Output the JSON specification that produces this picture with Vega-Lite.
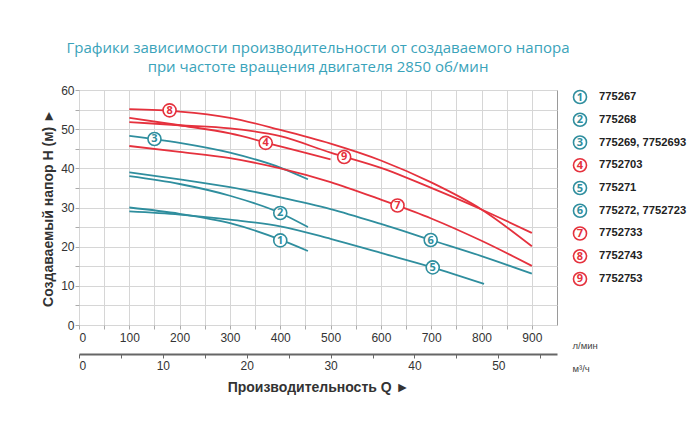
{
  "$schema": "https://vega.github.io/schema/vega-lite/v6.json",
  "padding": {"left": 41, "top": 40, "right": 5, "bottom": 5},
  "background": "white",
  "bounds": "flush",
  "spacing": 16,
  "config": {"font": "Liberation Sans", "view": {"stroke": null}},
  "datasets": {
    "curves": [
      {"id": "1", "q": 100, "h": 30.0}, {"id": "1", "q": 200, "h": 28.4}, {"id": "1", "q": 300, "h": 26.0}, {"id": "1", "q": 400, "h": 21.8}, {"id": "1", "q": 455, "h": 18.9},
      {"id": "2", "q": 100, "h": 38.0}, {"id": "2", "q": 200, "h": 36.0}, {"id": "2", "q": 300, "h": 33.0}, {"id": "2", "q": 400, "h": 28.6}, {"id": "2", "q": 455, "h": 25.0},
      {"id": "3", "q": 100, "h": 48.3}, {"id": "3", "q": 200, "h": 46.5}, {"id": "3", "q": 300, "h": 44.0}, {"id": "3", "q": 400, "h": 40.2}, {"id": "3", "q": 455, "h": 37.2},
      {"id": "4", "q": 100, "h": 52.9}, {"id": "4", "q": 200, "h": 51.0}, {"id": "4", "q": 300, "h": 48.9}, {"id": "4", "q": 400, "h": 45.6}, {"id": "4", "q": 500, "h": 42.3},
      {"id": "5", "q": 100, "h": 29.0}, {"id": "5", "q": 200, "h": 28.2}, {"id": "5", "q": 300, "h": 26.9}, {"id": "5", "q": 400, "h": 25.2}, {"id": "5", "q": 500, "h": 22.0}, {"id": "5", "q": 600, "h": 18.4}, {"id": "5", "q": 700, "h": 14.8}, {"id": "5", "q": 805, "h": 10.5},
      {"id": "6", "q": 100, "h": 39.0}, {"id": "6", "q": 200, "h": 37.2}, {"id": "6", "q": 300, "h": 35.2}, {"id": "6", "q": 400, "h": 32.6}, {"id": "6", "q": 500, "h": 29.6}, {"id": "6", "q": 600, "h": 25.8}, {"id": "6", "q": 700, "h": 21.7}, {"id": "6", "q": 800, "h": 17.6}, {"id": "6", "q": 900, "h": 13.1},
      {"id": "7", "q": 100, "h": 45.7}, {"id": "7", "q": 200, "h": 44.2}, {"id": "7", "q": 300, "h": 42.6}, {"id": "7", "q": 400, "h": 40.0}, {"id": "7", "q": 500, "h": 36.5}, {"id": "7", "q": 600, "h": 32.0}, {"id": "7", "q": 700, "h": 27.2}, {"id": "7", "q": 800, "h": 21.5}, {"id": "7", "q": 900, "h": 15.1},
      {"id": "8", "q": 100, "h": 55.1}, {"id": "8", "q": 200, "h": 54.5}, {"id": "8", "q": 300, "h": 52.9}, {"id": "8", "q": 400, "h": 49.8}, {"id": "8", "q": 500, "h": 46.3}, {"id": "8", "q": 600, "h": 42.0}, {"id": "8", "q": 700, "h": 36.4}, {"id": "8", "q": 800, "h": 29.5}, {"id": "8", "q": 900, "h": 20.1},
      {"id": "9", "q": 100, "h": 51.8}, {"id": "9", "q": 200, "h": 51.0}, {"id": "9", "q": 300, "h": 50.2}, {"id": "9", "q": 400, "h": 48.2}, {"id": "9", "q": 500, "h": 44.0}, {"id": "9", "q": 600, "h": 40.1}, {"id": "9", "q": 700, "h": 35.0}, {"id": "9", "q": 800, "h": 29.5}, {"id": "9", "q": 900, "h": 23.5}
    ],
    "labels": [
      {"id": "1", "q": 400, "h": 21.6},
      {"id": "2", "q": 400, "h": 28.6},
      {"id": "3", "q": 150, "h": 47.5},
      {"id": "4", "q": 371, "h": 46.5},
      {"id": "5", "q": 703, "h": 14.7},
      {"id": "6", "q": 699, "h": 21.7},
      {"id": "7", "q": 633, "h": 30.5},
      {"id": "8", "q": 180, "h": 54.8},
      {"id": "9", "q": 527, "h": 42.9}
    ],
    "legend": [
      {"id": "1", "name": "775267"},
      {"id": "2", "name": "775268"},
      {"id": "3", "name": "775269, 7752693"},
      {"id": "4", "name": "7752703"},
      {"id": "5", "name": "775271"},
      {"id": "6", "name": "775272, 7752723"},
      {"id": "7", "name": "7752733"},
      {"id": "8", "name": "7752743"},
      {"id": "9", "name": "7752753"}
    ],
    "m3": [{"m3": 0}, {"m3": 57}]
  },
  "hconcat": [
    {
      "width": 478,
      "height": 235,
      "view": {"stroke": "#9a9a9a"},
      "title": {
        "text": ["Графики зависимости производительности от создаваемого напора", "при частоте вращения двигателя 2850 об/мин"],
        "font": "Open Sans", "fontSize": 15, "fontWeight": "normal", "color": "#3aa3ba",
        "lineHeight": 19, "offset": 9, "anchor": "middle"
      },
      "resolve": {"scale": {"x": "independent"}},
      "layer": [
        {
          "encoding": {
            "x": {
              "field": "q", "type": "quantitative",
              "scale": {"domain": [0, 950], "nice": false, "zero": false},
              "axis": {
                "values": [0, 50, 100, 150, 200, 250, 300, 350, 400, 450, 500, 550, 600, 650, 700, 750, 800, 850, 900],
                "labelExpr": "datum.value % 100 === 0 ? datum.label : ''",
                "grid": true, "gridColor": "#d6d6d6", "domain": false,
                "tickColor": "#aaa", "tickSize": 4,
                "labelFontSize": 12, "labelColor": "#333", "labelPadding": 3,
                "title": ["л/мин", "м³/ч"], "titleFontSize": 9.5, "titleFontWeight": "normal", "titleColor": "#444",
                "titleX": 493, "titleY": 23, "titleAlign": "left", "titleBaseline": "alphabetic", "titleLineHeight": 23
              }
            },
            "y": {
              "field": "h", "type": "quantitative",
              "scale": {"domain": [0, 60], "nice": false},
              "axis": {
                "values": [0, 5, 10, 15, 20, 25, 30, 35, 40, 45, 50, 55, 60],
                "labelExpr": "datum.value % 10 === 0 ? datum.label : ''",
                "grid": true, "gridColor": "#d6d6d6", "domain": false,
                "tickColor": "#aaa", "tickSize": 4,
                "labelFontSize": 12, "labelColor": "#333", "labelPadding": 1,
                "title": "Создаваемый напор Н (м) ►", "titleFontSize": 14, "titleFontWeight": "bold", "titleColor": "#333", "titlePadding": 5
              }
            }
          },
          "layer": [
            {
              "data": {"name": "curves"},
              "mark": {"type": "line", "interpolate": "monotone", "strokeWidth": 1.8},
              "encoding": {
                "color": {"field": "id", "type": "nominal", "legend": null,
                  "scale": {"domain": ["1", "2", "3", "4", "5", "6", "7", "8", "9"], "range": ["#2f8e9e", "#2f8e9e", "#2f8e9e", "#e5313d", "#2f8e9e", "#2f8e9e", "#e5313d", "#e5313d", "#e5313d"]}}
              }
            },
            {
              "data": {"name": "labels"},
              "mark": {"type": "point", "shape": "circle", "filled": true, "fill": "white", "fillOpacity": 1, "size": 170, "strokeWidth": 1.6},
              "encoding": {
                "stroke": {"field": "id", "type": "nominal", "legend": null,
                  "scale": {"domain": ["1", "2", "3", "4", "5", "6", "7", "8", "9"], "range": ["#2f8e9e", "#2f8e9e", "#2f8e9e", "#e5313d", "#2f8e9e", "#2f8e9e", "#e5313d", "#e5313d", "#e5313d"]}}
              }
            },
            {
              "data": {"name": "labels"},
              "mark": {"type": "text", "fontSize": 11, "fontWeight": "bold", "font": "Open Sans", "baseline": "middle", "dy": 0.5},
              "encoding": {
                "text": {"field": "id"},
                "color": {"field": "id", "type": "nominal", "legend": null}
              }
            }
          ]
        },
        {
          "data": {"name": "m3"},
          "mark": {"type": "point", "opacity": 0},
          "encoding": {
            "x": {
              "field": "m3", "type": "quantitative",
              "scale": {"domain": [0, 57], "nice": false, "zero": false},
              "axis": {
                "orient": "bottom", "offset": 29,
                "values": [0, 5, 10, 15, 20, 25, 30, 35, 40, 45, 50, 55],
                "labelExpr": "datum.value % 10 === 0 ? datum.label : ''",
                "grid": false, "domainColor": "#666", "domainWidth": 2,
                "tickColor": "#666", "tickSize": 4,
                "labelFontSize": 12, "labelColor": "#333", "labelPadding": 2,
                "title": "Производительность Q ►", "titleFontSize": 14, "titleFontWeight": "bold", "titleColor": "#333", "titlePadding": 9
              }
            }
          }
        }
      ]
    },
    {
      "width": 14,
      "height": 196,
      "view": {"stroke": null},
      "data": {"name": "legend"},
      "encoding": {
        "y": {"field": "id", "type": "ordinal", "scale": {"type": "point", "padding": 0.308}, "axis": null}
      },
      "layer": [
        {
          "mark": {"type": "point", "shape": "circle", "filled": true, "fill": "white", "fillOpacity": 1, "size": 170, "strokeWidth": 1.6},
          "encoding": {
            "stroke": {"field": "id", "type": "nominal", "legend": null,
              "scale": {"domain": ["1", "2", "3", "4", "5", "6", "7", "8", "9"], "range": ["#2f8e9e", "#2f8e9e", "#2f8e9e", "#e5313d", "#2f8e9e", "#2f8e9e", "#e5313d", "#e5313d", "#e5313d"]}}
          }
        },
        {
          "mark": {"type": "text", "fontSize": 11, "fontWeight": "bold", "font": "Open Sans", "baseline": "middle", "dy": 0.5},
          "encoding": {
            "text": {"field": "id"},
            "color": {"field": "id", "type": "nominal", "legend": null,
              "scale": {"domain": ["1", "2", "3", "4", "5", "6", "7", "8", "9"], "range": ["#2f8e9e", "#2f8e9e", "#2f8e9e", "#e5313d", "#2f8e9e", "#2f8e9e", "#e5313d", "#e5313d", "#e5313d"]}}
          }
        },
        {
          "mark": {"type": "text", "align": "left", "baseline": "middle", "dx": 19, "fontSize": 11.2, "fontWeight": "bold", "color": "#222"},
          "encoding": {"text": {"field": "name"}}
        }
      ]
    }
  ]
}
